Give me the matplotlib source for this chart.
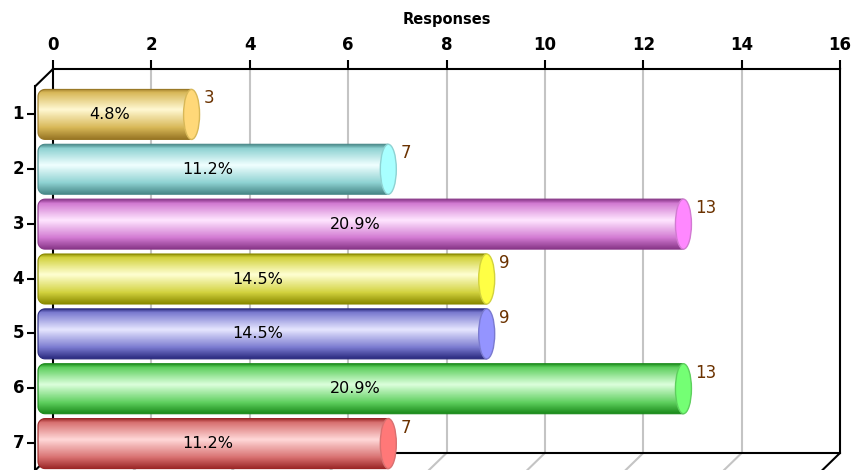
import numpy as np
import matplotlib
matplotlib.use("Agg")
import matplotlib.pyplot as plt
from matplotlib.colors import LinearSegmentedColormap
from matplotlib.patches import Ellipse, PathPatch, ConnectionPatch
from matplotlib.path import Path
from matplotlib.transforms import offset_copy

categories = ["1", "2", "3", "4", "5", "6", "7"]
responses = [3, 7, 13, 9, 9, 13, 7]
percents = ["4.8%", "11.2%", "20.9%", "14.5%", "14.5%", "20.9%", "11.2%"]
x_ticks = [0, 2, 4, 6, 8, 10, 12, 14, 16]

# (dark edge, mid, highlight, end cap)
bar_colors = [
    ("#9a7826", "#d8b858", "#fff8d2", "#ffd878"),
    ("#4a8a8a", "#8ed2d2", "#f0ffff", "#a8ffff"),
    ("#8a388a", "#d27ad2", "#ffe6ff", "#ff88ff"),
    ("#8a8a00", "#d2d23e", "#ffffd2", "#ffff44"),
    ("#2a2a7e", "#7a7ad0", "#e6e6ff", "#9494ff"),
    ("#1a8a1a", "#5ecf5e", "#dcffdc", "#74ff74"),
    ("#9a2626", "#d87070", "#ffd8d8", "#ff7878"),
]

W, H = 861, 470
fig = plt.figure(figsize=(W / 100, H / 100), dpi=100)
# back wall of the 3D box
ax = fig.add_axes([53 / W, (H - 453) / H, 787 / W, 384 / H])
ax.set_xlim(0, 16)
ax.set_ylim(7.5, 0.5)

ax.xaxis.tick_top()
ax.xaxis.set_label_position("top")
ax.set_xticks(x_ticks)
ax.set_xticklabels([str(t) for t in x_ticks], fontsize=12, fontweight="bold")
ax.tick_params(axis="x", length=6.5, width=1.5, pad=4, color="black")
ax.set_yticks([])
ax.set_xlabel("Responses", fontsize=10.5, fontweight="bold", labelpad=9)
for sp in ax.spines.values():
    sp.set_linewidth(1.5)
    sp.set_color("black")
    sp.set_zorder(0.5)
for t in x_ticks[1:-1]:
    ax.axvline(t, color="#c4c4c4", lw=1.5, zorder=0)

front_tr = offset_copy(ax.transData, fig=fig, x=-18, y=-17.5, units="dots")
bar_tr = offset_copy(ax.transData, fig=fig, x=-9, y=-18, units="dots")

# floor lines going to the front plane
for t in x_ticks:
    col = "black" if t in (0, 16) else "#c4c4c4"
    ax.add_artist(ConnectionPatch(xyA=(t, 7.5), coordsA=ax.transData,
                                  xyB=(t, 7.5), coordsB=front_tr,
                                  color=col, lw=1.5, clip_on=False, zorder=0))
ax.add_artist(ConnectionPatch(xyA=(0, 0.5), coordsA=ax.transData,
                              xyB=(0, 0.5), coordsB=front_tr,
                              color="black", lw=1.5, clip_on=False, zorder=0.5))
ax.plot([0, 0], [0.5, 7.8], color="black", lw=1.5, transform=front_tr,
        clip_on=False, zorder=1)

ypos = np.arange(1, len(categories) + 1)
ax.plot(np.zeros(len(ypos)), ypos, ls="none", marker=0, ms=6, mew=1.5,
        color="black", transform=front_tr, clip_on=False)
for y, lab in zip(ypos, categories):
    ax.annotate(lab, xy=(0, y), xycoords=front_tr, xytext=(-11, 0),
                textcoords="offset pixels", ha="right", va="center",
                fontsize=12, fontweight="bold", annotation_clip=False)

px_x = 787 / 16.0
px_y = 384 / 7.0
bh = 50 / px_y
cw = 16 / px_x
r = 7.0
grad = np.linspace(0, 1, 64).reshape(-1, 1)

for y, v, pct, (dk, md, lt, cap) in zip(ypos, responses, percents, bar_colors):
    cmap = LinearSegmentedColormap.from_list(
        "c", [(0, dk), (0.08, md), (0.42, lt), (0.78, md), (1, dk)])
    x0, x1 = -cw / 2 + 2 / px_x, v
    top, bot = y - bh / 2, y + bh / 2
    rx, ry = r / px_x, r / px_y
    a1 = np.linspace(np.pi / 2, np.pi, 10)
    a2 = np.linspace(np.pi, 1.5 * np.pi, 10)
    verts = [(x1, top), (x1, bot)]
    verts += [(x0 + rx + rx * np.cos(a), bot - ry + ry * np.sin(a)) for a in a1]
    verts += [(x0 + rx + rx * np.cos(a), top + ry + ry * np.sin(a)) for a in a2]
    verts.append((x1, top))
    body = PathPatch(Path(verts), fc="none", ec=dk, lw=0.8, transform=bar_tr,
                     clip_on=False, zorder=3)
    ax.add_patch(body)
    im = ax.imshow(grad, extent=(x0, x1, bot, top), cmap=cmap, aspect="auto",
                   origin="upper", transform=bar_tr, interpolation="bilinear",
                   zorder=2)
    im.set_clip_box(fig.bbox)
    im.set_clip_path(body)
    ax.add_patch(Ellipse((v, y), cw, bh, fc=cap, ec=md, lw=1,
                         transform=bar_tr, clip_on=False, zorder=4))
    ax.annotate(str(v), xy=(v + cw / 2, top), xycoords=bar_tr, xytext=(4, -9),
                textcoords="offset pixels", ha="left", va="center",
                fontsize=12, color="#6b3200", annotation_clip=False, zorder=5)
    ax.annotate(pct, xy=(v / 2, y), xycoords=bar_tr, xytext=(-8, 0),
                textcoords="offset pixels", ha="center", va="center",
                fontsize=11.5, color="black", annotation_clip=False, zorder=5)

ax.set_xlim(0, 16)
ax.set_ylim(7.5, 0.5)
fig.savefig("out.png", dpi=100)
